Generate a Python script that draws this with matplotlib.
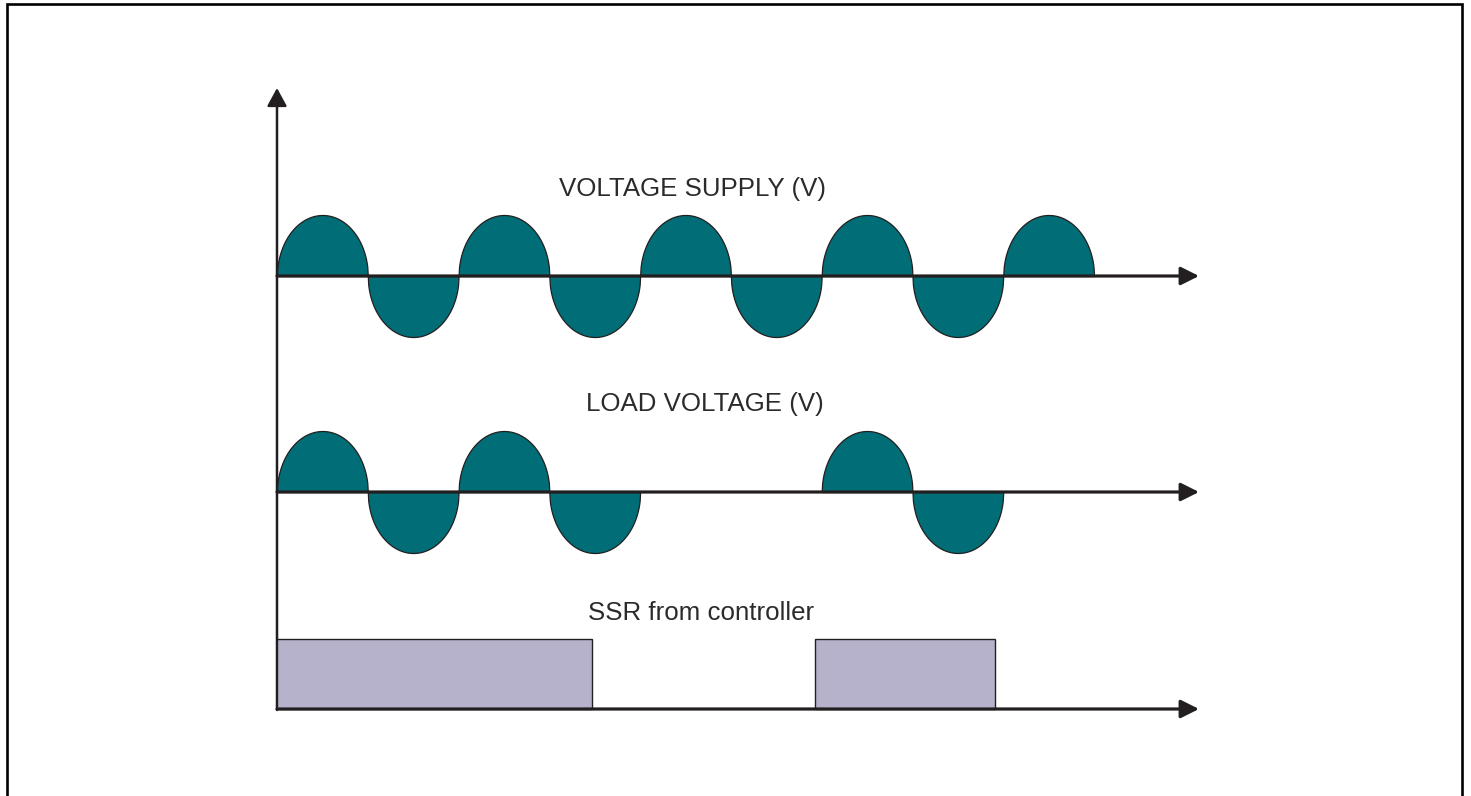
import numpy as np
import matplotlib
matplotlib.use("Agg")
import matplotlib.pyplot as plt

# ---- data (time in half-cycles of the mains) ----
supply_polarity = [1, -1, 1, -1, 1, -1, 1, -1, 1]      # half-cycles of supply voltage
load_conducting = [1, 1, 1, 1, 0, 0, 1, 1, 0]          # half-cycles passed to the load
ssr_on_start = [0.0, 5.93]                             # SSR command on (half-cycles)
ssr_on_end = [3.47, 7.91]                              # SSR command off (half-cycles)
titles = ["VOLTAGE SUPPLY (V)", "LOAD VOLTAGE (V)", "SSR from controller"]

TEAL = "#006d77"
LILAC = "#b7b2cc"
INK = "#231f20"

W, H = 1471, 796
fig = plt.figure(figsize=(W / 100, H / 100), dpi=100)

# overlay in pixel units for frame and the common vertical axis
ax0 = fig.add_axes([0, 0, 1, 1])
ax0.set_xlim(0, W)
ax0.set_ylim(H, 0)
ax0.axis("off")
ax0.plot([7, 7, 1462, 1462], [H + 5, 4, 4, H + 5], color="black", lw=1.9,
         solid_joinstyle="miter", clip_on=False)

# layout
HC = 90.78          # pixels per half-cycle
X0 = 277            # time origin (pixels)
AMP = 61            # waveform amplitude (pixels)
T_END = (1199 - X0) / HC

def panel(base, top, bottom, unit):
    rect = [0, 1 - bottom / H, 1, (bottom - top) / H]
    ax = fig.add_axes(rect)
    ax.set_xlim(-X0 / HC, (W - X0) / HC)
    ax.set_ylim((base - bottom) / unit, (base - top) / unit)
    ax.axis("off")
    ax.patch.set_alpha(0)
    return ax

def time_axis(ax):
    ax.annotate("", xy=(T_END, 0), xytext=(0, 0),
                arrowprops=dict(arrowstyle="-|>,head_length=1.1,head_width=0.55",
                                mutation_scale=10, lw=2.3, color=INK,
                                shrinkA=0, shrinkB=0), zorder=5)

def lobes(ax, polarity, active):
    for k, (s, a) in enumerate(zip(polarity, active)):
        if not a:
            continue
        t = np.linspace(k, k + 1, 200)
        v = s * np.sqrt(np.clip(1 - (2 * (t - k) - 1) ** 2, 0, None))
        ax.fill_between(t, 0, v, facecolor=TEAL, edgecolor=INK, lw=0.9, zorder=2)

ax_s = panel(276, 190, 360, AMP)
lobes(ax_s, supply_polarity, [1] * len(supply_polarity))
time_axis(ax_s)

ax_l = panel(492, 410, 575, AMP)
lobes(ax_l, supply_polarity, load_conducting)
time_axis(ax_l)

ax_r = panel(709, 630, 725, 70)
ax_r.bar(ssr_on_start, [1] * len(ssr_on_start),
         width=np.array(ssr_on_end) - np.array(ssr_on_start), bottom=0,
         align="edge", color=LILAC, edgecolor=INK, lw=1.0, zorder=2)
time_axis(ax_r)

# common vertical axis
ax0.annotate("", xy=(277, 88), xytext=(277, 710),
             arrowprops=dict(arrowstyle="-|>,head_length=1.1,head_width=0.6",
                             mutation_scale=10, lw=1.8, color=INK,
                             shrinkA=0, shrinkB=0), zorder=6)

font = dict(family=["Liberation Sans", "DejaVu Sans"], size=18.6, color="#2b2b2b")
ax0.text(693, 196, titles[0], ha="center", va="baseline", **font)
ax0.text(705, 411, titles[1], ha="center", va="baseline", **font)
ax0.text(701, 620, titles[2], ha="center", va="baseline", **font)

fig.savefig("out.png", dpi=100)
